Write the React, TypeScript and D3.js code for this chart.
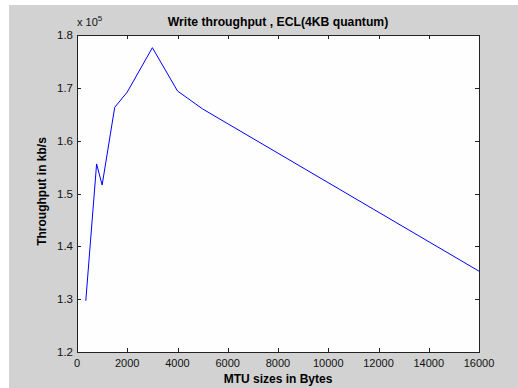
import { useEffect, useRef } from "react"
import * as d3 from "d3"

// MTU size (bytes) vs. write throughput (x 10^5 kb/s)
const mtuSizes = [350, 780, 1000, 1500, 2000, 3000, 4000, 5000, 16000]
const throughput = [1.297, 1.556, 1.516, 1.663, 1.692, 1.776, 1.694, 1.66, 1.353]

const xTicks = [0, 2000, 4000, 6000, 8000, 10000, 12000, 14000, 16000]
const yTicks = [1.2, 1.3, 1.4, 1.5, 1.6, 1.7, 1.8]

const titleText = "Write throughput , ECL(4KB quantum)"
const xLabelText = "MTU sizes in Bytes"
const yLabelText = "Throughput in kb/s"

export default function App() {
  const svgRef = useRef<SVGSVGElement>(null)

  useEffect(() => {
    if (!svgRef.current) return
    const W = 518
    const H = 388
    const margin = { top: 35, right: 39, bottom: 36, left: 77 }
    const width = W - margin.left - margin.right
    const height = H - margin.top - margin.bottom

    const root = d3.select(svgRef.current)
    root.selectAll("*").remove()
    root.attr("width", W).attr("height", H)

    // figure background
    root.append("rect").attr("x", 9).attr("y", 5).attr("width", W - 9).attr("height", H - 5).attr("fill", "#d2d2d2")

    const svg = root.append("g").attr("transform", `translate(${margin.left},${margin.top})`)

    const x = d3.scaleLinear().domain([0, 16000]).range([0, width])
    const y = d3.scaleLinear().domain([1.2, 1.8]).range([height, 0])

    svg.append("rect").attr("width", width).attr("height", height).attr("fill", "#fefefe")

    const font = "Arial, 'Liberation Sans', Helvetica, sans-serif"
    const tickLen = 4

    // ticks on all four sides, pointing inward
    const ticks = svg.append("g").attr("stroke", "#222").attr("stroke-width", 1)
    xTicks.forEach((t) => {
      const px = Math.round(x(t)) + 0.5
      ticks.append("line").attr("x1", px).attr("x2", px).attr("y1", height).attr("y2", height - tickLen)
      ticks.append("line").attr("x1", px).attr("x2", px).attr("y1", 0).attr("y2", tickLen)
    })
    yTicks.forEach((t) => {
      const py = Math.round(y(t)) + 0.5
      ticks.append("line").attr("x1", 0).attr("x2", tickLen).attr("y1", py).attr("y2", py)
      ticks.append("line").attr("x1", width).attr("x2", width - tickLen).attr("y1", py).attr("y2", py)
    })

    // tick labels
    svg
      .append("g")
      .selectAll("text")
      .data(xTicks)
      .enter()
      .append("text")
      .attr("x", (d) => x(d))
      .attr("y", height + 15)
      .attr("text-anchor", "middle")
      .style("font-family", font)
      .style("font-size", "11px")
      .attr("fill", "#111")
      .text((d) => String(d))

    svg
      .append("g")
      .selectAll("text")
      .data(yTicks)
      .enter()
      .append("text")
      .attr("x", -4)
      .attr("y", (d) => y(d) + 4)
      .attr("text-anchor", "end")
      .style("font-family", font)
      .style("font-size", "11.5px")
      .attr("fill", "#111")
      .text((d) => d.toFixed(1))

    // exponent label
    const expo = svg.append("text").attr("x", 0).attr("y", -9).style("font-family", font).attr("fill", "#111")
    expo.append("tspan").style("font-size", "11px").text("x 10")
    expo.append("tspan").style("font-size", "8px").attr("dy", -5).text("5")

    // the line
    const line = d3
      .line<number>()
      .x((_, i) => x(mtuSizes[i]))
      .y((d) => y(d))
    svg
      .append("path")
      .datum(throughput)
      .attr("d", line)
      .attr("fill", "none")
      .attr("stroke", "#0000ff")
      .attr("stroke-width", 1)

    // box
    svg
      .append("rect")
      .attr("x", 0.5)
      .attr("y", 0.5)
      .attr("width", width)
      .attr("height", height)
      .attr("fill", "none")
      .attr("stroke", "#222")

    // title and axis labels
    svg
      .append("text")
      .attr("x", width / 2)
      .attr("y", -9)
      .attr("text-anchor", "middle")
      .style("font-family", font)
      .style("font-size", "12.2px")
      .style("font-weight", "bold")
      .attr("fill", "#000")
      .text(titleText)

    svg
      .append("text")
      .attr("x", width / 2)
      .attr("y", height + 31)
      .attr("text-anchor", "middle")
      .style("font-family", font)
      .style("font-size", "12px")
      .style("font-weight", "bold")
      .attr("fill", "#000")
      .text(xLabelText)

    svg
      .append("text")
      .attr("transform", `translate(${-31},${height / 2 - 2}) rotate(-90)`)
      .attr("text-anchor", "middle")
      .style("font-family", font)
      .style("font-size", "12px")
      .style("font-weight", "bold")
      .attr("fill", "#000")
      .text(yLabelText)
  }, [])

  return (
    <div style={{ position: "absolute", left: 0, top: 0 }}>
      <svg ref={svgRef} style={{ display: "block" }} />
    </div>
  )
}
